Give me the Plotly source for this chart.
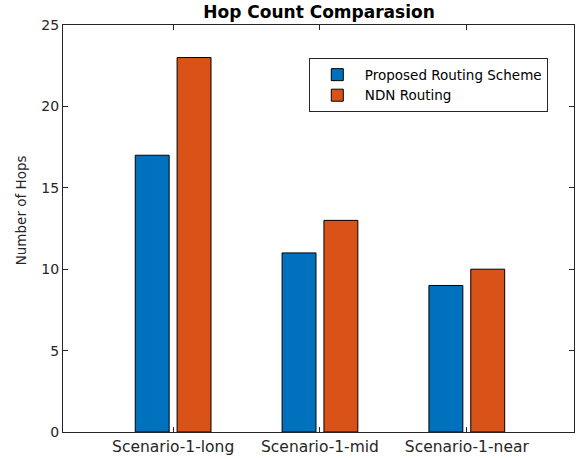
import plotly.graph_objects as go

categories = ["Scenario-1-long", "Scenario-1-mid", "Scenario-1-near"]
proposed = [17, 11, 9]
ndn = [23, 13, 10]
y_ticks = [0, 5, 10, 15, 20, 25]

xpos = [1, 2, 3]

fig = go.Figure()
fig.add_trace(go.Bar(x=xpos, y=proposed, name="Proposed Routing Scheme",
                     marker=dict(color="#0072BD", line=dict(color="#000000", width=1))))
fig.add_trace(go.Bar(x=xpos, y=ndn, name="NDN Routing",
                     marker=dict(color="#D95319", line=dict(color="#000000", width=1))))

axis_color = "#262626"
fig.update_layout(
    width=578, height=459,
    margin=dict(l=63, r=4, t=25, b=27),
    paper_bgcolor="white", plot_bgcolor="white",
    font=dict(family="DejaVu Sans", size=13, color=axis_color),
    barmode="group", bargap=0.43, bargroupgap=0.19,
    title=dict(text="<b>Hop Count Comparasion</b>", x=0.552, xanchor="center",
               y=0.973, yanchor="middle", font=dict(size=17, color="#000000")),
    showlegend=True,
    legend=dict(x=0.481, y=0.918, xanchor="left", yanchor="top",
                bordercolor=axis_color, borderwidth=1, bgcolor="white",
                font=dict(size=13.5, color="#000000"), tracegroupgap=0,
                itemwidth=45),
    annotations=[dict(text="Number of Hops", textangle=-90, showarrow=False,
                      xref="paper", yref="paper", x=-0.082, y=0.545,
                      xanchor="center", yanchor="middle",
                      font=dict(size=13.5, color=axis_color))],
)
fig.update_xaxes(range=[0.25, 3.73], tickvals=xpos, ticktext=categories,
                 ticks="inside", ticklen=5, tickcolor=axis_color,
                 showline=True, linecolor=axis_color, linewidth=1, mirror="ticks",
                 showgrid=False, zeroline=False, tickfont=dict(size=15.5),
                 automargin=False)
fig.update_yaxes(range=[0, 25], tickvals=y_ticks,
                 ticks="inside", ticklen=5, tickcolor=axis_color,
                 showline=True, linecolor=axis_color, linewidth=1, mirror="ticks",
                 showgrid=False, zeroline=False, tickfont=dict(size=14),
                 automargin=False)

fig.write_html("out.html", config={"displayModeBar": False},
               post_script="document.body.style.margin='0px';document.body.style.overflow='hidden';")
